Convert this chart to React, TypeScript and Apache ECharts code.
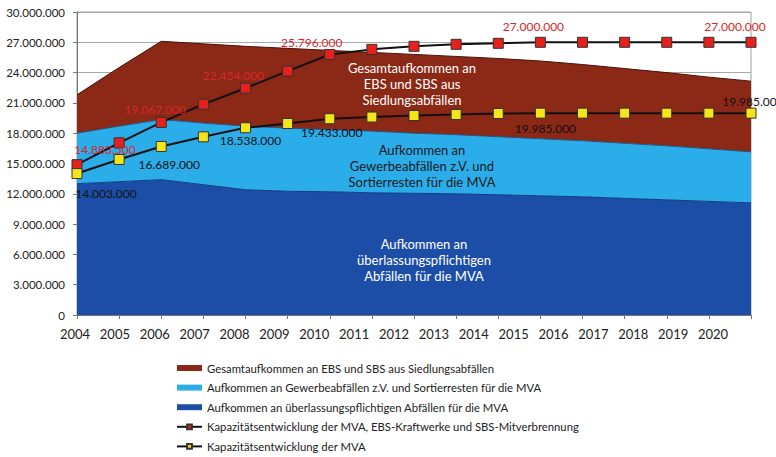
import React, { useEffect, useRef } from "react";
import * as echarts from "echarts";

const years = ["2004","2005","2006","2007","2008","2009","2010","2011","2012","2013","2014","2015","2016","2017","2018","2019","2020"];
const yTicks = ["0","3.000.000","6.000.000","9.000.000","12.000.000","15.000.000","18.000.000","21.000.000","24.000.000","27.000.000","30.000.000"];

// stacked areas
const mvaPflicht = [13000000,13200000,13400000,12900000,12400000,12250000,12200000,12100000,12050000,12000000,11900000,11800000,11700000,11550000,11400000,11250000,11100000];
const gewerbe = [5000000,5500000,5950000,6100000,6300000,6250000,6150000,6100000,5950000,5850000,5750000,5650000,5550000,5450000,5350000,5200000,5050000];
const ebsSbs = [3800000,5800000,7750000,7850000,7900000,7900000,7850000,7800000,7800000,7750000,7750000,7700000,7550000,7400000,7250000,7100000,7000000];

// capacity lines
const kapGesamt = [14883500,17050000,19067000,20870000,22454000,24150000,25796000,26300000,26600000,26800000,26900000,27000000,27000000,27000000,27000000,27000000,27000000];
const kapMVA = [14003000,15400000,16689000,17640000,18538000,18960000,19433000,19600000,19750000,19850000,19950000,19985000,19985000,19985000,19985000,19985000,19985000];

const names = [
  "Gesamtaufkommen an EBS und SBS aus Siedlungsabfällen",
  "Aufkommen an Gewerbeabfällen z.V. und Sortierresten für die MVA",
  "Aufkommen an überlassungspflichtigen Abfällen für die MVA",
  "Kapazitätsentwicklung der MVA, EBS-Kraftwerke und SBS-Mitverbrennung",
  "Kapazitätsentwicklung der MVA",
];

const redLabelOffsets: Record<number, number[]> = { 0: [28, -15], 2: [-6, -13], 4: [-12, -13], 6: [-18, -12], 11: [-7, -16], 16: [-16, -16] };
const yelLabelOffsets: Record<number, number[]> = { 0: [29, 20], 2: [8, 18], 4: [5, 13], 6: [2, 14], 11: [5, 15], 16: [2, -12] };

const FONT = "Lato";
const fmt = (n: number) => String(Math.round(n)).replace(/\B(?=(\d{3})+(?!\d))/g, ".");

function lineData(vals: number[], offs: Record<number, number[]>, color: string) {
  return vals.map((v, i) =>
    offs[i]
      ? {
          value: v,
          label: {
            show: true,
            position: "inside",
            offset: offs[i],
            formatter: (p: any) => fmt(p.value),
            color,
            fontSize: 12,
            fontFamily: FONT,
          },
        }
      : v
  );
}

export default function App() {
  const ref = useRef<HTMLDivElement>(null);
  useEffect(() => {
    const chart = echarts.init(ref.current!, null, { renderer: "svg" });
    const areaLine = (c: string) => ({ width: 1, color: c });
    chart.setOption({
      animation: false,
      backgroundColor: "#ffffff",
      textStyle: { fontFamily: FONT },
      grid: [
        { left: 77, right: 25, top: 12, bottom: 142, show: true, borderColor: "#a0a0a0", borderWidth: 1 },
        { left: 75, right: 63, top: 315, height: 1 },
      ],
      xAxis: [
        {
          type: "category",
          data: years,
          boundaryGap: false,
          gridIndex: 0,
          axisLine: { lineStyle: { color: "#777" } },
          axisTick: { show: true, lineStyle: { color: "#777" }, length: 4 },
          axisLabel: { show: false },
          z: 10,
        },
        {
          type: "category",
          data: years,
          boundaryGap: false,
          gridIndex: 1,
          axisLine: { show: false },
          axisTick: { show: false },
          axisLabel: { color: "#222", fontSize: 13, fontFamily: FONT, margin: 11 },
        },
      ],
      yAxis: [
        {
          type: "value",
          min: 0,
          max: 30000000,
          interval: 3000000,
          gridIndex: 0,
          axisLine: { show: true, lineStyle: { color: "#777" } },
          axisTick: { show: true, length: 4, lineStyle: { color: "#777" } },
          splitLine: { lineStyle: { color: "#a8a8a8" } },
          axisLabel: {
            color: "#222",
            fontSize: 11.5,
            fontFamily: FONT,
            margin: 12,
            formatter: (v: number) => yTicks[Math.round(v / 3000000)] ?? fmt(v),
          },
        },
        { type: "value", gridIndex: 1, show: false },
      ],
      legend: {
        orient: "vertical",
        left: 171,
        top: 356,
        height: 110,
        itemWidth: 25,
        itemHeight: 6,
        itemGap: 5.6,
        itemTextGap: 6,
        textStyle: { color: "#222", fontSize: 11.3, fontFamily: FONT, lineHeight: 14 },
        data: [
          { name: names[0], icon: "rect" },
          { name: names[1], icon: "rect" },
          { name: names[2], icon: "rect" },
          { name: names[3] },
          { name: names[4] },
        ],
      },
      graphic: [
        {
          type: "text",
          x: 412,
          y: 84,
          style: { text: "Gesamtaufkommen an\nEBS und SBS aus\nSiedlungsabfällen", fill: "#ffffff", font: `13px ${FONT}`, align: "center", verticalAlign: "middle", lineHeight: 16 },
          z: 100,
        },
        {
          type: "text",
          x: 422,
          y: 166,
          style: { text: "Aufkommen an\nGewerbeabfällen z.V. und\nSortierresten für die MVA", fill: "#1a1a1a", font: `13px ${FONT}`, align: "center", verticalAlign: "middle", lineHeight: 16 },
          z: 100,
        },
        {
          type: "text",
          x: 424,
          y: 260,
          style: { text: "Aufkommen an\nüberlassungspflichtigen\nAbfällen für die MVA", fill: "#ffffff", font: `13px ${FONT}`, align: "center", verticalAlign: "middle", lineHeight: 16 },
          z: 100,
        },
      ],
      series: [
        {
          name: names[2],
          type: "line",
          stack: "a",
          data: mvaPflicht,
          symbol: "none",
          lineStyle: areaLine("#123a80"),
          areaStyle: { color: "#1c4ea8", opacity: 1 },
          itemStyle: { color: "#1c4ea8" },
        },
        {
          name: names[1],
          type: "line",
          stack: "a",
          data: gewerbe,
          symbol: "none",
          lineStyle: areaLine("#1a5a8a"),
          areaStyle: { color: "#2badea", opacity: 1 },
          itemStyle: { color: "#2badea" },
        },
        {
          name: names[0],
          type: "line",
          stack: "a",
          data: ebsSbs,
          symbol: "none",
          lineStyle: areaLine("#4a1208"),
          areaStyle: { color: "#8c2816", opacity: 1 },
          itemStyle: { color: "#8c2816" },
        },
        {
          name: names[3],
          type: "line",
          data: lineData(kapGesamt, redLabelOffsets, "#d9262a"),
          symbol: "rect",
          symbolSize: 10,
          lineStyle: { color: "#111", width: 2 },
          itemStyle: { color: "#e8201c", borderColor: "#333", borderWidth: 1 },
          z: 5,
        },
        {
          name: names[4],
          type: "line",
          data: lineData(kapMVA, yelLabelOffsets, "#111"),
          symbol: "rect",
          symbolSize: 10,
          lineStyle: { color: "#111", width: 2 },
          itemStyle: { color: "#f4e41a", borderColor: "#333", borderWidth: 1 },
          z: 5,
        },
      ],
    });
    return () => chart.dispose();
  }, []);
  return <div ref={ref} style={{ position: "fixed", left: 0, top: 0, width: 776, height: 457 }} />;
}
